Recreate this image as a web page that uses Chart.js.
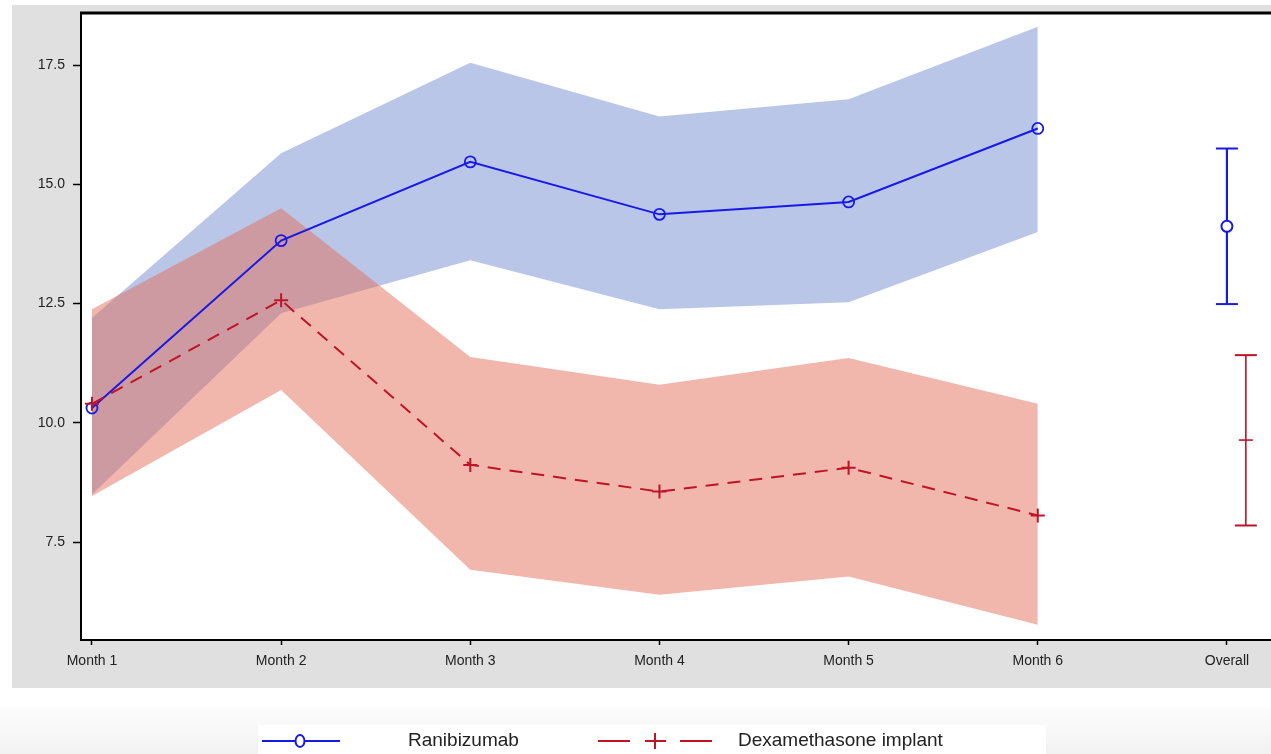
<!DOCTYPE html>
<html>
<head>
<meta charset="utf-8">
<script src="https://cdn.jsdelivr.net/npm/chart.js@4/dist/chart.umd.min.js"></script>
<style>
  html, body { margin: 0; padding: 0; background: #fff; }
  #wrap { width: 1271px; height: 754px; position: relative; }
</style>
</head>
<body>
<div id="wrap"><canvas id="chart" width="1271" height="754"></canvas></div>
<script>
// Monthly means with 95% bands, plus an overall estimate per arm.
const months = ['Month 1', 'Month 2', 'Month 3', 'Month 4', 'Month 5', 'Month 6', 'Overall'];
const raniMean = [10.31, 13.82, 15.47, 14.37, 14.63, 16.17];
const raniLo = [8.5, 12.3, 13.41, 12.38, 12.53, 14.0];
const raniHi = [12.2, 15.65, 17.55, 16.42, 16.78, 18.3];
const dexMean = [10.4, 12.57, 9.12, 8.56, 9.06, 8.06];
const dexLo = [8.47, 10.69, 6.92, 6.4, 6.78, 5.77];
const dexHi = [12.38, 14.5, 11.38, 10.8, 11.36, 10.4];
// overall: [lower, mean, upper]
const raniOverall = [12.49, 14.12, 15.75];
const dexOverall = [7.85, 9.64, 11.42];
const yTicks = [7.5, 10.0, 12.5, 15.0, 17.5];

const BLUE = 'rgb(25,25,230)';
const RED = 'rgb(190,20,40)';
const BLUE_FILL = 'rgba(120,145,210,0.52)';
const RED_FILL = 'rgba(228,110,90,0.5)';

const pts = (arr, shift) => arr.map((v, i) => ({ x: i + 1 + (shift || 0), y: v }));

// Gray frame, top border and legend strip.
const backdrop = {
  id: 'backdrop',
  beforeDraw(chart) {
    const { ctx, chartArea: a } = chart;
    ctx.save();
    ctx.fillStyle = '#fff';
    ctx.fillRect(0, 0, chart.width, chart.height);
    ctx.fillStyle = '#e0e0e0';
    ctx.fillRect(12, 5, chart.width - 12, 683);
    ctx.fillStyle = '#fff';
    ctx.fillRect(a.left, a.top, a.right - a.left, a.bottom - a.top);
    const g = ctx.createLinearGradient(0, 706, 0, 754);
    g.addColorStop(0, '#fdfdfd');
    g.addColorStop(1, '#f2f2f2');
    ctx.fillStyle = g;
    ctx.fillRect(0, 706, chart.width, 48);
    ctx.fillStyle = '#fff';
    ctx.fillRect(258, 725, 788, 29);
    ctx.restore();
  },
  afterDraw(chart) {
    const { ctx, chartArea: a } = chart;
    ctx.save();
    ctx.strokeStyle = '#000';
    ctx.lineWidth = 3;
    ctx.beginPath();
    ctx.moveTo(a.left - 1, a.top);
    ctx.lineTo(a.right, a.top);
    ctx.stroke();

    // legend
    const y = 741;
    ctx.lineWidth = 2;
    ctx.strokeStyle = BLUE;
    ctx.beginPath();
    ctx.moveTo(262, y); ctx.lineTo(340, y);
    ctx.stroke();
    ctx.beginPath();
    ctx.fillStyle = '#fff';
    ctx.ellipse(300, y, 4.5, 6, 0, 0, Math.PI * 2);
    ctx.fill();
    ctx.stroke();

    ctx.strokeStyle = RED;
    ctx.lineWidth = 2;
    ctx.beginPath();
    ctx.moveTo(598, y); ctx.lineTo(630, y);
    ctx.moveTo(645, y); ctx.lineTo(666, y);
    ctx.moveTo(680, y); ctx.lineTo(712, y);
    ctx.moveTo(655, y - 8); ctx.lineTo(655, y + 8);
    ctx.stroke();

    ctx.fillStyle = '#222';
    ctx.font = '19px "Liberation Sans", Arial, sans-serif';
    ctx.textBaseline = 'middle';
    ctx.fillText('Ranibizumab', 408, y);
    ctx.fillText('Dexamethasone implant', 738, y);
    ctx.restore();
  }
};

const tickFont = { family: '"Liberation Sans", Arial, sans-serif', size: 14 };

new Chart(document.getElementById('chart'), {
  type: 'line',
  data: {
    datasets: [
      { data: pts(raniLo), borderWidth: 0, pointRadius: 0, fill: false, order: 30 },
      { data: pts(raniHi), borderWidth: 0, pointRadius: 0, fill: '-1', backgroundColor: BLUE_FILL, order: 29 },
      { data: pts(dexLo), borderWidth: 0, pointRadius: 0, fill: false, order: 20 },
      { data: pts(dexHi), borderWidth: 0, pointRadius: 0, fill: '-1', backgroundColor: RED_FILL, order: 19 },
      {
        label: 'Ranibizumab', data: pts(raniMean), borderColor: BLUE, borderWidth: 2,
        pointStyle: 'circle', pointRadius: 5.5, pointBorderColor: BLUE, pointBorderWidth: 1.8,
        pointBackgroundColor: 'rgba(0,0,0,0)', fill: false, order: 2
      },
      {
        label: 'Dexamethasone implant', data: pts(dexMean), borderColor: RED, borderWidth: 2,
        borderDash: [13, 9], pointStyle: 'cross', pointRadius: 7, pointBorderColor: RED,
        pointBorderWidth: 2, fill: false, order: 1
      },
      // overall error bars
      {
        data: [{ x: 7, y: raniOverall[0] }, { x: 7, y: raniOverall[2] }], borderColor: BLUE,
        borderWidth: 2.2, pointStyle: 'line', pointRadius: 11, pointBorderColor: BLUE, pointBorderWidth: 2, fill: false, order: 1
      },
      {
        data: [{ x: 7, y: raniOverall[1] }], showLine: false, pointStyle: 'circle', pointRadius: 5.5,
        pointBorderColor: BLUE, pointBorderWidth: 2, pointBackgroundColor: '#fff', order: 0
      },
      {
        data: [{ x: 7.1, y: dexOverall[0] }, { x: 7.1, y: dexOverall[2] }], borderColor: RED,
        borderWidth: 1.6, pointStyle: 'line', pointRadius: 11, pointBorderColor: RED, pointBorderWidth: 2, fill: false, order: 1
      },
      {
        data: [{ x: 7.1, y: dexOverall[1] }], showLine: false, pointStyle: 'line', pointRadius: 7,
        pointBorderColor: RED, pointBorderWidth: 1.6, order: 0
      }
    ]
  },
  options: {
    responsive: false,
    animation: false,
    events: [],
    layout: { autoPadding: false, padding: { left: 12, top: 13, right: 0, bottom: 0 } },
    plugins: { legend: { display: false }, tooltip: { enabled: false } },
    scales: {
      x: {
        type: 'linear', min: 0.942, max: 7.233,
        afterBuildTicks: (s) => { s.ticks = months.map((m, i) => ({ value: i + 1 })); },
        afterFit: (s) => { s.height = 114; s.paddingLeft = 0; s.paddingRight = 0; },
        ticks: {
          callback: (v) => months[v - 1], color: '#222', font: tickFont, padding: 8,
          autoSkip: false, maxRotation: 0
        },
        grid: { display: true, drawOnChartArea: false, drawTicks: true, tickLength: 5, color: '#000', tickWidth: 1.5 },
        border: { display: true, color: '#000', width: 2 }
      },
      y: {
        min: 5.45, max: 18.59,
        afterBuildTicks: (s) => { s.ticks = yTicks.map((v) => ({ value: v })); },
        afterFit: (s) => { s.width = 69; s.paddingTop = 0; s.paddingBottom = 0; },
        ticks: { callback: (v) => v.toFixed(1), color: '#222', font: tickFont, padding: 8 },
        grid: { display: true, drawOnChartArea: false, drawTicks: true, tickLength: 8, color: '#000', tickWidth: 1.5 },
        border: { display: true, color: '#000', width: 2 }
      }
    }
  },
  plugins: [backdrop]
});
</script>
</body>
</html>
